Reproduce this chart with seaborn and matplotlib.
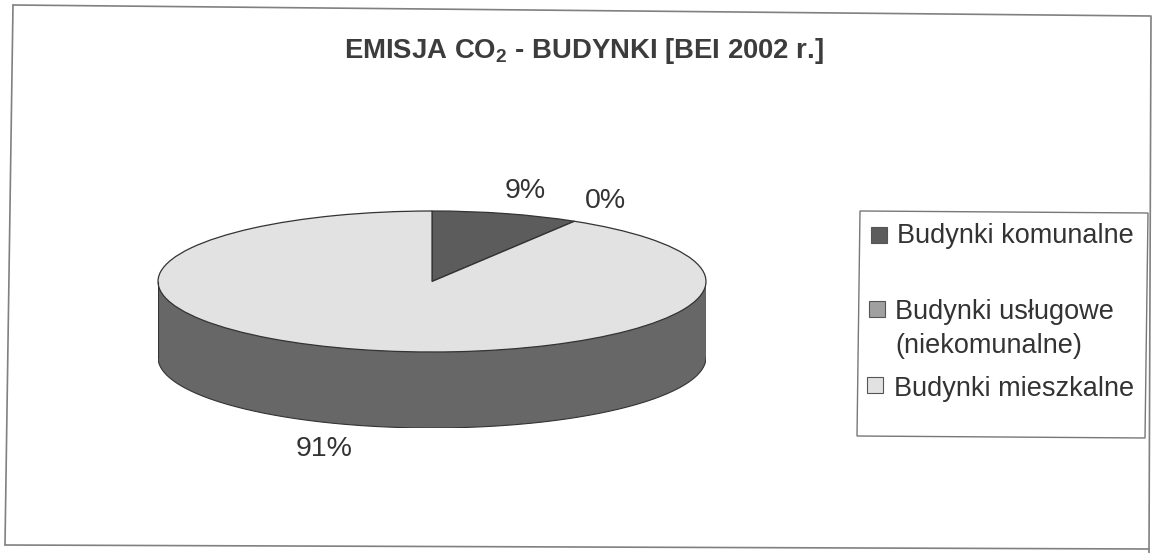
import matplotlib
matplotlib.use("Agg")
import matplotlib.pyplot as plt
import numpy as np
import seaborn as sns
from matplotlib.lines import Line2D
from matplotlib.patches import Polygon, Rectangle

# values (labels round them to 9, 0 and 91)
categories = ["Budynki komunalne", "Budynki usługowe\n(niekomunalne)", "Budynki mieszkalne"]
shares = [8.7, 0, 91.3]
title_txt = r"EMISJA CO$_{\mathbf{2}}$ - BUDYNKI [BEI 2002 r.]"

W, H = 1155, 553
DEPTH = 76 / 70.5  # side wall height, in units of the vertical radius

sns.set_theme(style="white")
plt.rcParams["font.family"] = ["Liberation Sans", "DejaVu Sans"]
plt.rcParams["mathtext.fontset"] = "custom"
plt.rcParams["mathtext.bf"] = "Liberation Sans:bold"
plt.rcParams["mathtext.rm"] = "Liberation Sans"

palette = sns.color_palette(["#5c5c5c", "#a0a0a0", "#e2e2e2"])
side_col = "#676767"
edge_col = "#333333"
text_col = "#333333"


def px_x(x):
    return x / W


def px_y(y):
    return 1 - y / H


fig = plt.figure(figsize=(W / 100, H / 100), dpi=100, facecolor="white")
ax = fig.add_axes([px_x(158), px_y(428), 548 / W, 217 / H])

# side wall: a lower copy of the pie plus the band up to the top face
ax.pie(shares, colors=[side_col] * 3, center=(0, -DEPTH), startangle=90, counterclock=False,
       wedgeprops={"linewidth": 0}, frame=True)
xs = np.linspace(-1, 1, 50)
ax.fill_between(xs, -DEPTH, 0, color=side_col, linewidth=0)
ax.plot([-1, -1], [-DEPTH, 0], color=edge_col, lw=0.8)
ax.plot([1, 1], [-DEPTH, 0], color=edge_col, lw=0.8)
arc = np.linspace(np.pi, 2 * np.pi, 200)
ax.plot(np.cos(arc), np.sin(arc) - DEPTH, color=edge_col, lw=0.8)

ax.pie(shares, colors=palette, startangle=90, counterclock=False,
       wedgeprops={"edgecolor": edge_col, "linewidth": 0.9}, frame=True)
ax.set_aspect("auto")
ax.set_xlim(-1, 1)
ax.set_ylim(-1 - DEPTH, 1)
ax.axis("off")

fig.text(px_x(584), px_y(51), title_txt, ha="center", va="center", fontsize=19.8,
         fontweight="bold", color="#3c3c3c")

label_pos = [(525, 191), (605, 201), (324, 449)]
for val, (x, y) in zip(shares, label_pos):
    fig.text(px_x(x), px_y(y), f"{val:.0f}%", ha="center", va="center", fontsize=20.5, color=text_col)

# outer frame, slightly tilted like the scan
frame = [((13, 5), (1150, 16)), ((1151, 16), (1149, 553)), ((1149, 549), (5, 545)), ((5, 545), (13, 5))]
for (x0, y0), (x1, y1) in frame:
    fig.add_artist(Line2D([px_x(x0), px_x(x1)], [px_y(y0), px_y(y1)], color="#808080", lw=1.2))

# legend box, rows are not evenly spaced in the original
box = [(860, 211), (1148, 213), (1145, 438), (857, 436)]
fig.add_artist(Polygon([(px_x(x), px_y(y)) for x, y in box], closed=True, facecolor="white",
                       edgecolor="#777777", lw=1.0, transform=fig.transFigure))
legend_rows = [(236, 235, 897, 871), (329, 309, 895, 869), (389, 385, 894, 867)]
for name, col, (y, mark_y, tx, bx) in zip(categories, palette, legend_rows):
    fig.add_artist(Rectangle((px_x(bx), px_y(mark_y + 8)), 16 / W, 16 / H, facecolor=col,
                             edgecolor="#555555", lw=0.8))
    fig.text(px_x(tx), px_y(y), name, ha="left", va="center", fontsize=19.5, color=text_col,
             linespacing=1.4)

fig.savefig("out.png", dpi=100)
